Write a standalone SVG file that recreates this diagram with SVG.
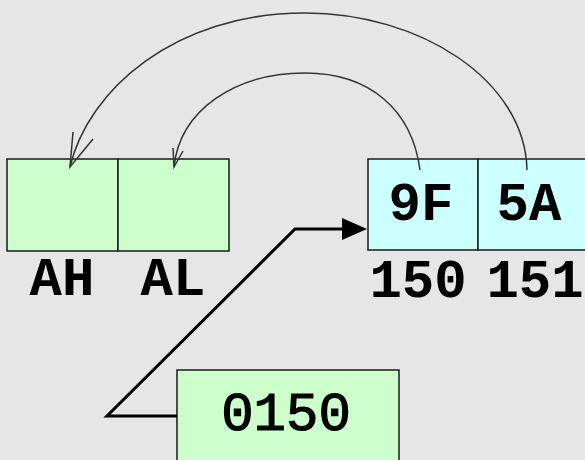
<svg xmlns="http://www.w3.org/2000/svg" width="585" height="460" viewBox="0 0 585 460">
<style>
.g{fill:#ccffcc;stroke:#1a1a1a;stroke-width:1.5}
.c{fill:#ccffff;stroke:#1a1a1a;stroke-width:1.5}
.t{font-family:"Liberation Mono","Courier New",monospace;font-weight:bold;font-size:54px;fill:#000;text-anchor:middle}
.n{font-weight:normal;stroke:#000;stroke-width:1.2}
.arc{fill:none;stroke:#333;stroke-width:1.5}
</style>
<rect width="585" height="460" fill="#e6e6e6"/>
<g id="AH"><rect class="g" x="7" y="159" width="111" height="92"/><text class="t" x="62" y="295">AH</text></g>
<g id="AL"><rect class="g" x="118" y="159" width="111" height="92"/><text class="t" x="173" y="295">AL</text></g>
<g id="m150"><rect class="c" x="368" y="159" width="110" height="91"/><text class="t" x="421" y="220">9F</text><text class="t" x="418" y="297">150</text></g>
<g id="m151"><rect class="c" x="478" y="159" width="110" height="91"/><text class="t" x="529" y="220">5A</text><text class="t" x="535" y="297">151</text></g>
<g id="addr"><rect class="g" x="177" y="370" width="222" height="95"/><text class="t n" x="286" y="430">0150</text></g>
<g id="connectors">
<path class="arc" d="M527,170 C525,80 420,13 305,13 C175,13 88,90 70,167"/>
<path class="arc" d="M73,132 L70,167 L93,139"/>
<path class="arc" d="M420,170 C412,110 370,73 305,73 C235,73 180,110 174,167"/>
<path class="arc" d="M173,148 L174,167 L183,151"/>
<path d="M177,416 L107,416 L295,229 L344,229" fill="none" stroke="#000" stroke-width="3"/>
<path d="M342,218 L367,229 L342,240 Z" fill="#000"/>
</g>
</svg>
